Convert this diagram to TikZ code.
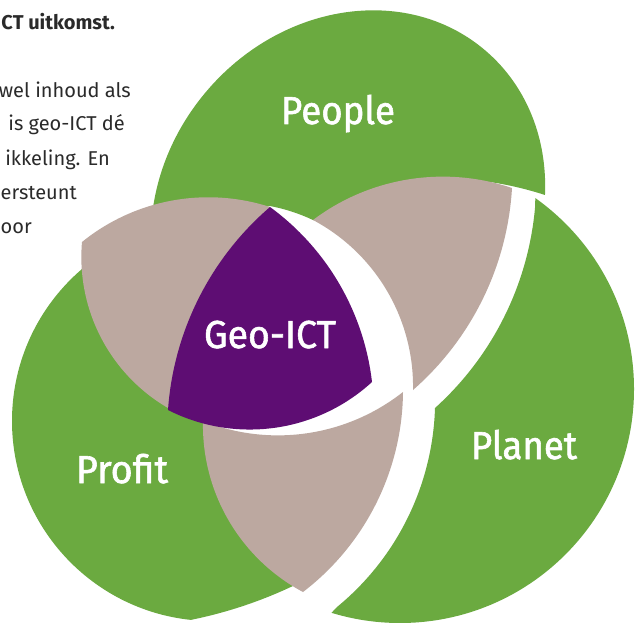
\documentclass[tikz,border=0pt]{standalone}
\usepackage{fontspec}
\usepackage{xfp}
\setmainfont{Fira Sans}
\newfontfamily\labfont{Fira Sans}[FakeBold=1.5]
\definecolor{vgreen}{HTML}{6BAA40}
\definecolor{vtaupe}{HTML}{BCA8A0}
\definecolor{vpurple}{HTML}{5E0D73}
\definecolor{vtext}{HTML}{2A2A2A}
\tikzset{
  lab/.style={text=white, inner sep=0pt, anchor=base, font=\labfont\fontsize{39}{44}\selectfont},
  body/.style={text=vtext, inner sep=0pt, anchor=base east, font=\fontsize{20}{24}\selectfont}
}
% arc through three points (x1,y1) (x2,y2) (x3,y3); defines \<name> as "-- (x1,y1) arc[...]"
\newcommand\mkarc[7]{%
  \edef\arcD{\fpeval{2*((#2)*((#5)-(#7))+(#4)*((#7)-(#3))+(#6)*((#3)-(#5)))}}%
  \edef\arcUX{\fpeval{(((#2)^2+(#3)^2)*((#5)-(#7))+((#4)^2+(#5)^2)*((#7)-(#3))+((#6)^2+(#7)^2)*((#3)-(#5)))/(\arcD)}}%
  \edef\arcUY{\fpeval{(((#2)^2+(#3)^2)*((#6)-(#4))+((#4)^2+(#5)^2)*((#2)-(#6))+((#6)^2+(#7)^2)*((#4)-(#2)))/(\arcD)}}%
  \edef\arcR{\fpeval{round(sqrt(((#2)-(\arcUX))^2+((#3)-(\arcUY))^2),3)}}%
  \edef\arcSA{\fpeval{atand((#3)-(\arcUY),(#2)-(\arcUX))}}%
  \edef\arcSB{\fpeval{atand((#5)-(\arcUY),(#4)-(\arcUX))}}%
  \edef\arcSC{\fpeval{atand((#7)-(\arcUY),(#6)-(\arcUX))}}%
  \edef\arcDB{\fpeval{(\arcSB)-(\arcSA)-360*floor(((\arcSB)-(\arcSA))/360)}}%
  \edef\arcDC{\fpeval{(\arcSC)-(\arcSA)-360*floor(((\arcSC)-(\arcSA))/360)}}%
  \edef\arcE{\fpeval{round(((\arcDB)<(\arcDC))?((\arcSA)+(\arcDC)):((\arcSA)+(\arcDC)-360),3)}}%
  \edef\arcS{\fpeval{round(\arcSA,3)}}%
  \expandafter\edef\csname #1\endcsname{-- (#2,#3) arc[start angle=\arcS, end angle=\arcE, radius=\arcR]}%
}
% People cuts
\mkarc{aPB}{545}{195}{507}{185}{490}{182}
\mkarc{aPW}{313}{220}{293}{212}{270}{206}
% Profit cut
\mkarc{aFB}{295}{585}{240}{607}{160}{625}
% Planet edges
\mkarc{aNL}{337}{607}{410}{513}{435}{408}
\mkarc{aNU}{435}{408}{500}{325}{535}{208}
% upper-right taupe
\mkarc{aUT}{313}{220}{430}{177}{512}{188}
\mkarc{aUR}{512}{188}{487}{290}{413}{390}
\mkarc{aUL}{413}{390}{367}{263}{313}{220}
% lower taupe
\mkarc{aLT}{203}{421}{290}{435}{403}{392}
\mkarc{aLR}{403}{392}{390}{470}{303}{592}
\mkarc{aLL}{303}{592}{223}{510}{203}{421}
% left taupe
\mkarc{aKT}{82}{242}{165}{202}{270}{207}
\mkarc{aKB}{168}{408}{110}{353}{82}{242}
% purple centre
\mkarc{aCR}{270}{207}{337}{280}{372}{382}
\mkarc{aCB}{372}{382}{290}{425}{168}{410}
\mkarc{aCL}{168}{410}{203}{290}{270}{207}
\begin{document}
\begin{tikzpicture}[x=1pt,y=1pt,yscale=-1]
\clip (0,0) rectangle (642,623);
\fill[white] (0,0) rectangle (642,623);

% Profit
\begin{scope}
  \clip (0,200) -- (160,205) -- (270,210) -- (250,300) -- (200,416) -- (205,423) -- (212,440) -- (240,510) -- (285,565) -- (295,585) \aFB -- (150,640) -- (0,640) -- cycle;
  \fill[vgreen] (212,421) circle[radius=200];
\end{scope}

% People
\begin{scope}
  \clip (0,-10) -- (652,-10) -- (652,200) -- (548,198) -- (545,195) \aPB -- (440,186) -- (363,207) -- (314,220) \aPW -- (240,212) -- (200,206) -- (152,213) -- (0,213) -- cycle;
  \fill[vgreen, rotate around={-50:(348,212)}] (348,212) ellipse[x radius=212, y radius=186];
\end{scope}

% Planet
\begin{scope}
  \clip (290,700) -- (320,625) -- (337,607) \aNL \aNU -- (537,150) -- (700,150) -- (700,700) -- cycle;
  \fill[vgreen] (400,389) circle[radius=234];
\end{scope}

% overlaps
\fill[vtaupe] (82,242) \aKT -- (250,300) -- (168,410) \aKB -- cycle;
\fill[vtaupe] (313,220) \aUT \aUR \aUL -- cycle;
\fill[vtaupe] (203,421) \aLT \aLR \aLL -- cycle;
\fill[vpurple] (270,207) \aCR \aCB \aCL -- cycle;

% labels
\node[lab] (people) at (338,124) {\scalebox{0.94}[1]{People}};
\node[lab] (geo) at (270,348) {\scalebox{0.96}[1]{Geo-ICT}};
\node[lab] (profit) at (122,483) {\scalebox{0.97}[1]{Profit}};
\node[lab] (planet) at (524,459) {\scalebox{0.94}[1]{Planet}};

% text at top left
\node[body, font=\fontsize{20}{24}\selectfont\bfseries] (head) at (115,29.5) {CT uitkomst.};
\node[body] (l1) at (131,97.7) {wel inhoud als};
\node[body] (l2) at (125,131) {is geo-ICT dé};
\node[body] (l3) at (110,165) {ikkeling. En};
\node[body, anchor=base west] (l4) at (0.5,199) {ersteunt};
\node[body, anchor=base west] (l5) at (0.5,233) {oor};
\end{tikzpicture}
\end{document}
